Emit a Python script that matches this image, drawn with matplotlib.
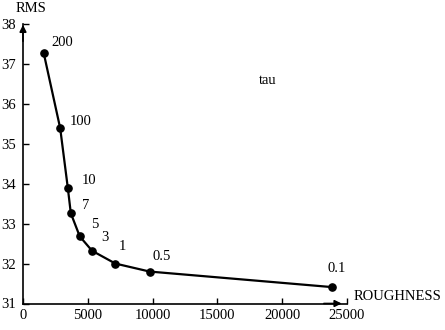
import matplotlib
matplotlib.use("Agg")
import matplotlib.pyplot as plt

roughness = [1600, 2870, 3460, 3690, 4380, 5330, 7130, 9770, 23870]
rms = [37.27, 35.39, 33.89, 33.26, 32.68, 32.32, 32.0, 31.8, 31.41]
tau_labels = ["200", "100", "10", "7", "5", "3", "1", "0.5", "0.1"]
label_offsets = [(19, 11), (20, 7), (21, 8), (15, 8), (15, 12), (13, 13), (7, 17), (12, 15), (4, 19)]
x_ticks = [0, 5000, 10000, 15000, 20000, 25000]
y_ticks = [31, 32, 33, 34, 35, 36, 37, 38]

plt.rcParams['font.family'] = ['Liberation Serif', 'DejaVu Serif']
plt.rcParams['font.size'] = 10.5

fig = plt.figure(figsize=(4.45, 3.3), dpi=100)
ax = fig.add_axes([23/445, 1 - 303.5/330, (347-23)/445, (303.5-24)/330])

ax.plot(roughness, rms, color='black', lw=1.6, marker='o', ms=5.2, zorder=3)
for x, y, t, (dx, dy) in zip(roughness, rms, tau_labels, label_offsets):
    ax.annotate(t, (x, y), xytext=(dx, dy), textcoords='offset pixels',
                ha='center', va='center', fontsize=10.5)

ax.set_xlim(0, 25000)
ax.set_ylim(31, 38)
ax.set_xticks(x_ticks)
ax.set_yticks(y_ticks)
ax.tick_params(direction='in', length=4, width=1)
ax.tick_params(axis='x', pad=4)
ax.tick_params(axis='y', pad=5)
for s in ['top', 'right']:
    ax.spines[s].set_visible(False)
for s in ['left', 'bottom']:
    ax.spines[s].set_linewidth(1.2)

# arrow heads
ax.annotate('', xy=(24800, 31), xytext=(23000, 31),
            arrowprops=dict(arrowstyle='-|>', color='black', lw=1.2, mutation_scale=10),
            annotation_clip=False)
ax.annotate('', xy=(0, 38.05), xytext=(0, 37.5),
            arrowprops=dict(arrowstyle='-|>', color='black', lw=1.2, mutation_scale=10),
            annotation_clip=False)

fig.text(31/445, 1 - 8/330, 'RMS', ha='center', va='center', fontsize=10.5)
fig.text(398/445, 1 - 297/330, 'ROUGHNESS', ha='center', va='center', fontsize=10.5)
fig.text(268/445, 1 - 80/330, 'tau', ha='center', va='center', fontsize=10.5)

fig.savefig('out.png', dpi=100)
